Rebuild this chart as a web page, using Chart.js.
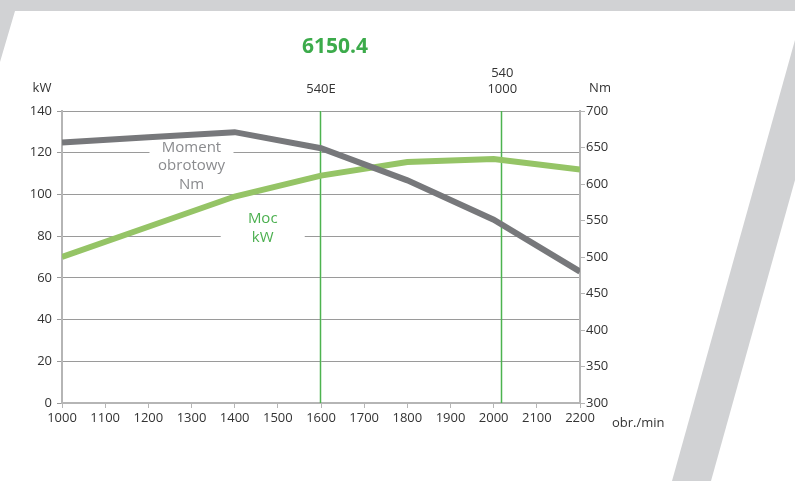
<!DOCTYPE html>
<html lang="pl">
<head>
  <meta charset="UTF-8" />
  <title>6150.4 – moc i moment obrotowy</title>
  <script src="https://cdn.jsdelivr.net/npm/chart.js"></script>
  <style>
    html, body { margin: 0; padding: 0; background: #fff; }
    #wrap { position: relative; width: 795px; height: 481px; overflow: hidden; }
    .deco { position: absolute; left: 0; top: 0; width: 795px; height: 481px; background: #d1d2d4; }
    #topBand { clip-path: polygon(0 0, 795px 0, 795px 11px, 15px 11px, 0 62px); }
    #stripe { clip-path: polygon(795px 40px, 672px 481px, 711px 481px, 795px 180px); }
    canvas { position: absolute; left: 0; top: 0; }
  </style>
</head>
<body>
  <div id="wrap">
    <div class="deco" id="topBand"></div>
    <div class="deco" id="stripe"></div>
    <canvas id="chart" width="795" height="481"></canvas>
  </div>

  <script>
    // values
    const rpm      = [1000, 1200, 1400, 1600, 1800, 2000, 2200];
    const powerKw  = [70, 84.5, 99, 109, 115.5, 117, 112];
    const torqueNm = [657, 664, 671, 649, 605, 551, 480];

    const rpmRange = [1000, 2200];
    const kwRange  = [0, 140];
    const nmRange  = [300, 700];

    // PTO speed markers
    const ptoRpm    = [1600, 2020];
    const ptoLabels = [["540E"], ["540", "1000"]];

    const FONT = "'Open Sans', 'Noto Sans', sans-serif";
    const GREEN = "#3cab4b";
    const TEXT = "#333333";
    const plain = v => String(v);

    const extras = {
      id: "extras",
      beforeDatasetsDraw(chart) {
        const { ctx, chartArea: a, scales } = chart;
        ctx.save();
        // vertical PTO lines
        ctx.strokeStyle = "#4db34f";
        ctx.lineWidth = 1.5;
        ptoRpm.forEach(r => {
          const x = Math.round(scales.x.getPixelForValue(r)) - 0.5;
          ctx.beginPath();
          ctx.moveTo(x, a.top);
          ctx.lineTo(x, a.bottom);
          ctx.stroke();
        });

        // in-plot series labels on white boxes
        ctx.font = "15px " + FONT;
        ctx.textAlign = "center";
        ctx.textBaseline = "middle";

        let cx = scales.x.getPixelForValue(1300);
        let cy = scales.y.getPixelForValue(120);
        ctx.fillStyle = "#fff";
        ctx.fillRect(cx - 42, cy - 14, 84, 46);
        ctx.fillStyle = "#8a8b8e";
        ["Moment", "obrotowy", "Nm"].forEach((t, i) => ctx.fillText(t, cx, cy - 5 + i * 18.5));

        cx = scales.x.getPixelForValue(1465);
        cy = scales.y.getPixelForValue(80);
        ctx.fillStyle = "#fff";
        ctx.fillRect(cx - 42, cy - 8, 84, 12);
        ctx.fillStyle = "#4cb050";
        ["Moc", "kW"].forEach((t, i) => ctx.fillText(t, cx, cy - 17 + i * 18.5));
        ctx.restore();
      },
      afterDraw(chart) {
        const { ctx, scales } = chart;
        ctx.save();
        ctx.textAlign = "center";
        ctx.textBaseline = "middle";

        ctx.fillStyle = GREEN;
        ctx.font = "bold 21px " + FONT;
        ctx.fillText("6150.4", 335, 47);

        ctx.fillStyle = TEXT;
        ctx.font = "13px " + FONT;
        ctx.fillText("kW", 42, 88);
        ctx.fillText("Nm", 600, 88);
        ptoRpm.forEach((r, i) => {
          const x = scales.x.getPixelForValue(r);
          const lines = ptoLabels[i];
          lines.forEach((t, j) => ctx.fillText(t, x, 89 - (lines.length - 1 - j) * 15.5));
        });
        ctx.textAlign = "left";
        ctx.fillText("obr./min", 612, 423);
        ctx.restore();
      }
    };

    new Chart(document.getElementById("chart").getContext("2d"), {
      type: "line",
      data: {
        datasets: [
          {
            label: "Moment obrotowy Nm",
            data: rpm.map((r, i) => ({ x: r, y: torqueNm[i] })),
            yAxisID: "y2",
            borderColor: "#77787b",
            borderWidth: 6,
            pointRadius: 0,
            tension: 0
          },
          {
            label: "Moc kW",
            data: rpm.map((r, i) => ({ x: r, y: powerKw[i] })),
            yAxisID: "y",
            borderColor: "#95c466",
            borderWidth: 6,
            pointRadius: 0,
            tension: 0
          }
        ]
      },
      options: {
        responsive: false,
        animation: false,
        events: [],
        layout: { padding: { top: 111, left: 0, right: 0, bottom: 0 } },
        plugins: { legend: { display: false }, tooltip: { enabled: false } },
        scales: {
          x: {
            type: "linear",
            min: rpmRange[0],
            max: rpmRange[1],
            ticks: { stepSize: 100, callback: plain, color: TEXT, font: { family: FONT, size: 13 }, padding: 2, maxRotation: 0 },
            grid: { drawOnChartArea: false, tickLength: 5, color: "#b5b5b5" },
            border: { color: "#b5b5b5", width: 2 },
            afterFit(s) { s.height = 78; s.paddingLeft = 0; s.paddingRight = 0; }
          },
          y: {
            position: "left",
            min: kwRange[0],
            max: kwRange[1],
            ticks: { stepSize: 20, callback: plain, color: TEXT, font: { family: FONT, size: 13 }, padding: 5 },
            grid: { color: "#9a9a9a", tickLength: 5 },
            border: { color: "#b5b5b5", width: 2 },
            afterFit(s) { s.width = 62; s.paddingTop = 0; s.paddingBottom = 0; }
          },
          y2: {
            position: "right",
            min: nmRange[0],
            max: nmRange[1],
            ticks: { stepSize: 50, callback: plain, color: TEXT, font: { family: FONT, size: 13 }, padding: 1 },
            grid: { drawOnChartArea: false, tickLength: 5, color: "#b5b5b5" },
            border: { color: "#b5b5b5", width: 2 },
            afterFit(s) { s.width = 215; s.paddingTop = 0; s.paddingBottom = 0; }
          }
        }
      },
      plugins: [extras]
    });
  </script>
</body>
</html>
